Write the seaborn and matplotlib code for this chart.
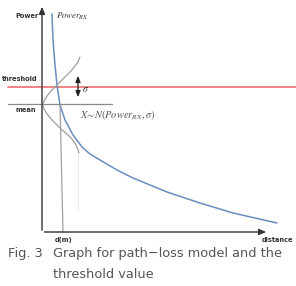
import matplotlib
matplotlib.use("Agg")
import matplotlib.pyplot as plt
import seaborn as sns
import pandas as pd

sns.set_theme(style="white")
plt.rcParams["font.family"] = ["DejaVu Sans"]
plt.rcParams["mathtext.fontset"] = "stix"

# Data (canvas pixel coordinates, y grows downward)
path_loss_x = [52, 53, 55, 57, 60, 65, 73, 82, 90, 100, 117, 133, 167, 200, 233, 277]
path_loss_y = [14, 40, 65, 85, 105, 120, 135, 147, 154, 160, 170, 178, 192, 203, 213, 223]

gauss_x = [80, 78, 75, 71, 66, 61, 57, 52, 47, 44, 43, 44, 47, 52, 57, 62, 67, 72, 76, 78, 79]
gauss_y = [57, 62, 66, 71, 76, 81, 85, 90, 96, 101, 105, 109, 114, 120, 125, 130, 134, 139, 145, 150, 153]

dm_x = [60, 63]
dm_y = [105, 232]

threshold_y = 87
mean_y = 104
sigma_top = 73
sigma_bottom = 100

fig = plt.figure(figsize=(2.96, 2.86), dpi=100)
ax = fig.add_axes([0, 0, 1, 1])
ax.set_xlim(0, 296)
ax.set_ylim(286, 0)
ax.axis("off")

blue = "#6a8dbf"
gray = "#a0a0a0"

# axes arrows
ax.annotate("", xy=(42, 4), xytext=(42, 233),
            arrowprops=dict(arrowstyle="-|>,head_length=0.35,head_width=0.15", color="#333333", lw=1.0))
ax.annotate("", xy=(269, 232), xytext=(41.5, 232),
            arrowprops=dict(arrowstyle="-|>,head_length=0.35,head_width=0.15", color="#333333", lw=1.0))

# threshold and mean lines
ax.plot([8, 296], [threshold_y, threshold_y], color="#f07a7a", lw=1.3)
ax.plot([8, 112], [mean_y, mean_y], color="#8a8a8a", lw=0.9)

# curves
sns.lineplot(data=pd.DataFrame({"x": path_loss_x, "y": path_loss_y}), x="x", y="y",
             sort=False, ax=ax, color=blue, lw=1.1, estimator=None)
sns.lineplot(data=pd.DataFrame({"x": gauss_x, "y": gauss_y}), x="x", y="y",
             sort=False, ax=ax, color=gray, lw=0.9, estimator=None)
sns.lineplot(data=pd.DataFrame({"x": dm_x, "y": dm_y}), x="x", y="y",
             sort=False, ax=ax, color=gray, lw=0.9, estimator=None)
ax.plot([78, 78], [155, 210], color="#ececec", lw=0.8)

# sigma arrow
ax.annotate("", xy=(78, sigma_top), xytext=(78, sigma_bottom),
            arrowprops=dict(arrowstyle="<|-|>,head_length=0.3,head_width=0.12", color="#222222", lw=0.9))
ax.text(82, 89, r"$\sigma$", fontsize=7, color="#333333", va="center", ha="left")

# labels
lab = dict(fontsize=4.8, fontweight="bold", color="#333333", va="center")
ax.text(27, 16, "Power", ha="center", **lab)
ax.text(56, 16, r"$Power_{RX}$", fontsize=6.3, color="#333333", ha="left", va="center")
ax.text(20, 79, "threshold", ha="center", **lab)
ax.text(36, 110, "mean", ha="right", **lab)
ax.text(64, 240, "d(m)", ha="center", **lab)
ax.text(277, 240, "distance", ha="center", **lab)
ax.text(80, 115, r"$X\!\sim\!N(Power_{RX},\sigma)$", fontsize=7.5, color="#555555", ha="left", va="center")

# caption
cap = dict(fontsize=9.3, color="#555555", ha="left", va="center")
ax.text(8, 254, "Fig. 3", **cap)
ax.text(53, 254, "Graph for path\u2212loss model and the", **cap)
ax.text(53, 274, "threshold value", **cap)

fig.savefig("out.png", dpi=100)
